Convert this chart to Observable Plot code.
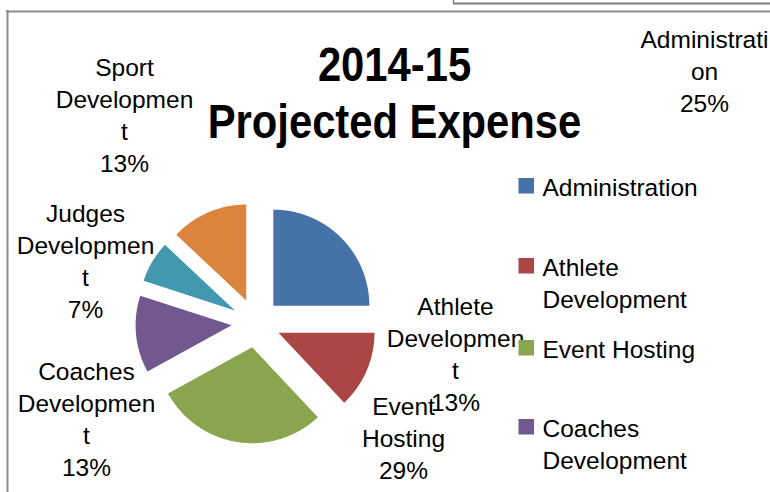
<!DOCTYPE html>
<html><head><meta charset="utf-8">
<script src="https://cdn.jsdelivr.net/npm/d3@7"></script>
<script src="https://cdn.jsdelivr.net/npm/@observablehq/plot@0.6"></script>
<style>html,body{margin:0;padding:0;background:#fff;overflow:hidden}</style>
</head><body><div id="chart"></div>
<script>
// ---- data ----
const categories = ["Administration","Athlete Development","Event Hosting","Coaches Development","Judges Development","Sport Development"];
const percents = [25, 13, 29, 13, 7, 13];
const colors = ["#4572A7","#AA4643","#89A54E","#71588F","#4198AF","#DB843D"];
const labelLines = [["Administrati","on"],["Athlete","Developmen","t"],["Event","Hosting"],["Coaches","Developmen","t"],["Judges","Developmen","t"],["Sport","Developmen","t"]];
const legendLines = [["Administration"],["Athlete","Development"],["Event Hosting"],["Coaches","Development"],["Judges","Development"],["Sport","Development"]];
const titleLines = ["2014-15", "Projected Expense"];

// ---- layout ----
const W = 770, H = 492;
const pie = {cx: 255.5, cy: 322.5, r: 96, explode: 24.5};
const labelAnchor = [[704,48],[455,315],[403,415],[86,380],[85,222],[124,76]]; // center x, first baseline
const legendTop = [178, 258, 340, 419, 499, 579];
const legendX = 518.5, legendSize = 15.5, legendTextX = 542;
const titleX = 394, titleBase = [80, 137];
const fs = 24.5, lh = 1.3;
const font = "'Liberation Sans', Arial, sans-serif";

const arcs = d3.pie().sort(null).value(d => d.value)(categories.map((name, i) => ({name, value: percents[i]})));
const slicePts = [];
arcs.forEach(a => {
  const mid = (a.startAngle + a.endAngle) / 2;
  const ox = pie.cx + pie.explode * Math.sin(mid), oy = pie.cy - pie.explode * Math.cos(mid);
  slicePts.push({name: a.data.name, x: ox, y: oy});
  const n = Math.max(2, Math.ceil((a.endAngle - a.startAngle) / (Math.PI / 360)));
  for (let k = 0; k <= n; k++) {
    const t = a.startAngle + (a.endAngle - a.startAngle) * k / n;
    slicePts.push({name: a.data.name, x: ox + pie.r * Math.sin(t), y: oy - pie.r * Math.cos(t)});
  }
});

const labels = categories.map((name, i) => ({
  name,
  text: labelLines[i].concat(percents[i] + "%").join("\n"),
  x: labelAnchor[i][0],
  y: labelAnchor[i][1] - 0.71 * lh * fs
}));
// only the legend entries that fall inside the visible area
const legend = categories.map((name, i) => ({
  name, text: legendLines[i].join("\n"), top: legendTop[i]
})).filter(d => d.top + legendSize < H);
const titles = titleLines.map((t, i) => ({text: t, y: titleBase[i]}));

const chart = Plot.plot({
  width: W, height: H, margin: 0,
  x: {domain: [0, W], range: [0, W], axis: null},
  y: {domain: [0, H], range: [0, H], axis: null},
  color: {type: "ordinal", domain: categories, range: colors},
  style: {fontFamily: font, background: "#fff", color: "#000"},
  marks: [
    Plot.ruleY([3], {x1: 453, x2: W, stroke: "#7f7f7f", strokeWidth: 2}),
    Plot.ruleX([453], {y1: 0, y2: 3, stroke: "#7f7f7f", strokeWidth: 1.5}),
    Plot.ruleY([11], {x1: 6, x2: W, stroke: "#8c8c8c", strokeWidth: 2}),
    Plot.ruleX([7], {y1: 10, y2: H, stroke: "#8c8c8c", strokeWidth: 2}),
    Plot.line(slicePts, {x: "x", y: "y", z: "name", fill: "name", stroke: "none", curve: "linear-closed"}),
    Plot.text(labels, {x: "x", y: "y", text: "text", fontSize: fs, lineHeight: lh, lineAnchor: "top", textAnchor: "middle", fill: "#000"}),
    Plot.text(titles, {x: () => titleX, y: "y", text: "text", fontSize: 48, fontWeight: "bold", lineAnchor: "bottom", textAnchor: "middle", fill: "#000"}),
    Plot.rect(legend, {x1: () => legendX, x2: () => legendX + legendSize, y1: "top", y2: d => d.top + legendSize, fill: "name"}),
    Plot.text(legend, {x: () => legendTextX, y: d => d.top + 17.5 - 0.71 * lh * fs, text: "text", fontSize: fs, lineHeight: lh, lineAnchor: "top", textAnchor: "start", fill: "#000"})
  ]
});
document.getElementById("chart").appendChild(chart);

// condense the bold title horizontally, as in the original (Calibri-like proportions)
d3.select(chart).selectAll("text").each(function () {
  if (!titleLines.includes(this.textContent)) return;
  const el = d3.select(this);
  let tr = el.attr("transform");
  if (!tr) {
    tr = `translate(${el.attr("x") || 0},${el.attr("y") || 0})`;
    el.attr("x", null).attr("y", null);
  }
  el.attr("transform", tr + " scale(0.87,1)");
});
</script>
</body></html>
